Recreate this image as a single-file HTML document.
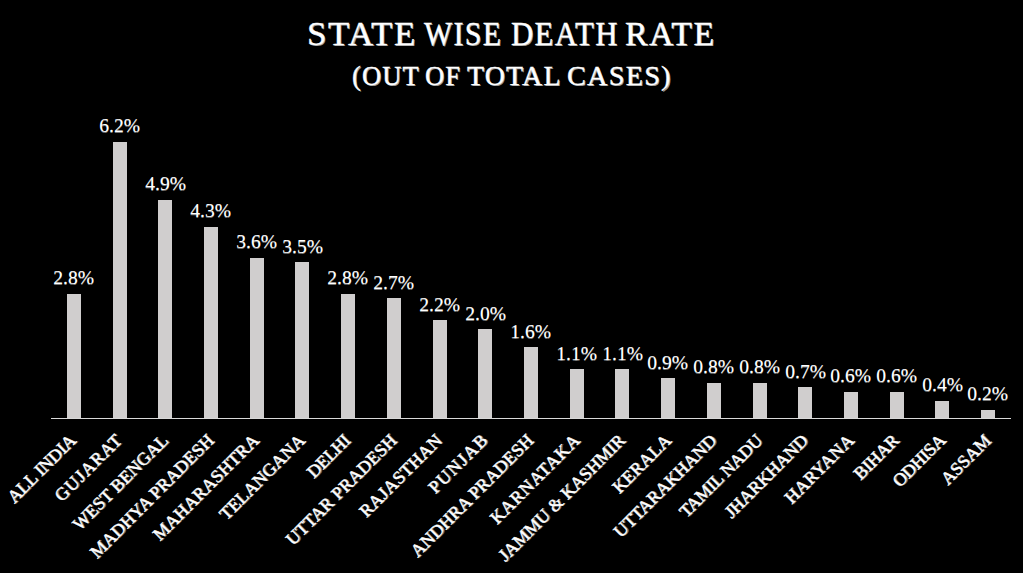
<!DOCTYPE html>
<html><head><meta charset="utf-8"><style>
html,body{margin:0;padding:0;background:#000;}
body{width:1023px;height:573px;position:relative;overflow:hidden;font-family:"Liberation Serif",serif;}
.tw,.sw{position:absolute;color:#fff;white-space:nowrap;line-height:1;transform-origin:0 0;}
.tw{font-size:33.5px;font-weight:normal;text-shadow:1px 1px 0 #999;-webkit-text-stroke:0.3px #fff;top:16.90px;letter-spacing:1.5px;}
.sw{font-size:27px;font-weight:normal;text-shadow:1px 1px 0 #999;-webkit-text-stroke:0.3px #fff;top:62.50px;letter-spacing:1.2px;}
.bar{position:absolute;width:14px;background:#d0cece;}
.axis{position:absolute;left:51px;top:418px;width:960px;height:1px;background:#d9d9d9;}
.dl span{display:inline-block;transform:scaleX(1.09);letter-spacing:0px;margin-right:-0px;}
.dl{position:absolute;width:100px;text-align:center;color:#fff;font-size:18px;line-height:1;transform:translateY(-100%);white-space:nowrap;text-shadow:0 1px 0 #777;}
.cat{position:absolute;color:#fff;font-size:18px;font-weight:normal;line-height:1;white-space:nowrap;transform-origin:100% 0;transform:rotate(-45deg);letter-spacing:0.3px;text-shadow:1px 1px 0 #777;-webkit-text-stroke:0.4px #fff;}
</style></head><body>
<div class="tw" style="left:306.76px;transform:scaleX(1.0428)">STATE</div><div class="tw" style="left:423.51px;transform:scaleX(0.8919)">WISE</div><div class="tw" style="left:511.00px;transform:scaleX(0.9187)">DEATH</div><div class="tw" style="left:625.48px;transform:scaleX(1.0099)">RATE</div><div class="sw" style="left:351.51px;transform:scaleX(0.9792)">(OUT</div><div class="sw" style="left:425.01px;transform:scaleX(0.9829)">OF</div><div class="sw" style="left:467.49px;transform:scaleX(1.0316)">TOTAL</div><div class="sw" style="left:566.95px;transform:scaleX(1.0452)">CASES)</div>
<div class="bar" style="left:66.86px;top:293.54px;height:124.96px"></div><div class="bar" style="left:112.57px;top:141.79px;height:276.71px"></div><div class="bar" style="left:158.29px;top:199.81px;height:218.69px"></div><div class="bar" style="left:204.00px;top:226.59px;height:191.91px"></div><div class="bar" style="left:249.71px;top:257.83px;height:160.67px"></div><div class="bar" style="left:295.43px;top:262.29px;height:156.21px"></div><div class="bar" style="left:341.14px;top:293.54px;height:124.96px"></div><div class="bar" style="left:386.86px;top:298.00px;height:120.50px"></div><div class="bar" style="left:432.57px;top:320.31px;height:98.19px"></div><div class="bar" style="left:478.29px;top:329.24px;height:89.26px"></div><div class="bar" style="left:524.00px;top:347.09px;height:71.41px"></div><div class="bar" style="left:569.71px;top:369.41px;height:49.09px"></div><div class="bar" style="left:615.43px;top:369.41px;height:49.09px"></div><div class="bar" style="left:661.14px;top:378.33px;height:40.17px"></div><div class="bar" style="left:706.86px;top:382.80px;height:35.70px"></div><div class="bar" style="left:752.57px;top:382.80px;height:35.70px"></div><div class="bar" style="left:798.29px;top:387.26px;height:31.24px"></div><div class="bar" style="left:844.00px;top:391.72px;height:26.78px"></div><div class="bar" style="left:889.71px;top:391.72px;height:26.78px"></div><div class="bar" style="left:935.43px;top:400.65px;height:17.85px"></div><div class="bar" style="left:981.14px;top:409.57px;height:8.93px"></div><div class="dl" style="left:23.86px;top:287.04px"><span>2.8%</span></div><div class="dl" style="left:69.57px;top:135.29px"><span>6.2%</span></div><div class="dl" style="left:115.29px;top:193.31px"><span>4.9%</span></div><div class="dl" style="left:161.00px;top:220.09px"><span>4.3%</span></div><div class="dl" style="left:206.71px;top:251.33px"><span>3.6%</span></div><div class="dl" style="left:252.43px;top:255.79px"><span>3.5%</span></div><div class="dl" style="left:298.14px;top:287.04px"><span>2.8%</span></div><div class="dl" style="left:343.86px;top:291.50px"><span>2.7%</span></div><div class="dl" style="left:389.57px;top:313.81px"><span>2.2%</span></div><div class="dl" style="left:435.29px;top:322.74px"><span>2.0%</span></div><div class="dl" style="left:481.00px;top:340.59px"><span>1.6%</span></div><div class="dl" style="left:526.71px;top:362.91px"><span>1.1%</span></div><div class="dl" style="left:572.43px;top:362.91px"><span>1.1%</span></div><div class="dl" style="left:618.14px;top:371.83px"><span>0.9%</span></div><div class="dl" style="left:663.86px;top:376.30px"><span>0.8%</span></div><div class="dl" style="left:709.57px;top:376.30px"><span>0.8%</span></div><div class="dl" style="left:755.29px;top:380.76px"><span>0.7%</span></div><div class="dl" style="left:801.00px;top:385.22px"><span>0.6%</span></div><div class="dl" style="left:846.71px;top:385.22px"><span>0.6%</span></div><div class="dl" style="left:892.43px;top:394.15px"><span>0.4%</span></div><div class="dl" style="left:938.14px;top:403.07px"><span>0.2%</span></div><div class="cat" style="right:956.24px;top:430.90px;letter-spacing:-0.169px"><span style="margin-right:--0.169px">ALL INDIA</span></div><div class="cat" style="right:910.53px;top:430.90px;letter-spacing:1.033px"><span style="margin-right:-1.033px">GUJARAT</span></div><div class="cat" style="right:864.81px;top:430.90px;letter-spacing:0.05px"><span style="margin-right:-0.05px">WEST BENGAL</span></div><div class="cat" style="right:819.10px;top:430.90px;letter-spacing:0.131px"><span style="margin-right:-0.131px">MADHYA PRADESH</span></div><div class="cat" style="right:773.39px;top:430.90px;letter-spacing:0.22px"><span style="margin-right:-0.22px">MAHARASHTRA</span></div><div class="cat" style="right:727.67px;top:430.90px;letter-spacing:0.162px"><span style="margin-right:-0.162px">TELANGANA</span></div><div class="cat" style="right:681.96px;top:430.90px;letter-spacing:-0.25px"><span style="margin-right:--0.25px">DELHI</span></div><div class="cat" style="right:636.24px;top:430.90px;letter-spacing:0.25px"><span style="margin-right:-0.25px">UTTAR PRADESH</span></div><div class="cat" style="right:590.53px;top:430.90px;letter-spacing:0.438px"><span style="margin-right:-0.438px">RAJASTHAN</span></div><div class="cat" style="right:544.81px;top:430.90px;letter-spacing:1.38px"><span style="margin-right:-1.38px">PUNJAB</span></div><div class="cat" style="right:499.10px;top:430.90px;letter-spacing:0.169px"><span style="margin-right:-0.169px">ANDHRA PRADESH</span></div><div class="cat" style="right:453.39px;top:430.90px;letter-spacing:0.938px"><span style="margin-right:-0.938px">KARNATAKA</span></div><div class="cat" style="right:407.67px;top:430.90px;letter-spacing:-0.021px"><span style="margin-right:--0.021px">JAMMU &amp; KASHMIR</span></div><div class="cat" style="right:361.96px;top:430.90px;letter-spacing:0.3px"><span style="margin-right:-0.3px">KERALA</span></div><div class="cat" style="right:316.24px;top:430.90px;letter-spacing:0.05px"><span style="margin-right:-0.05px">UTTARAKHAND</span></div><div class="cat" style="right:270.53px;top:430.90px;letter-spacing:-0.256px"><span style="margin-right:--0.256px">TAMIL NADU</span></div><div class="cat" style="right:224.81px;top:430.90px;letter-spacing:-0.05px"><span style="margin-right:--0.05px">JHARKHAND</span></div><div class="cat" style="right:179.10px;top:430.90px;letter-spacing:0.383px"><span style="margin-right:-0.383px">HARYANA</span></div><div class="cat" style="right:133.39px;top:430.90px;letter-spacing:-0.125px"><span style="margin-right:--0.125px">BIHAR</span></div><div class="cat" style="right:87.67px;top:430.90px;letter-spacing:-0.38px"><span style="margin-right:--0.38px">ODHISA</span></div><div class="cat" style="right:41.96px;top:430.90px;letter-spacing:0.1px"><span style="margin-right:-0.1px">ASSAM</span></div>
<div class="axis"></div>
</body></html>
